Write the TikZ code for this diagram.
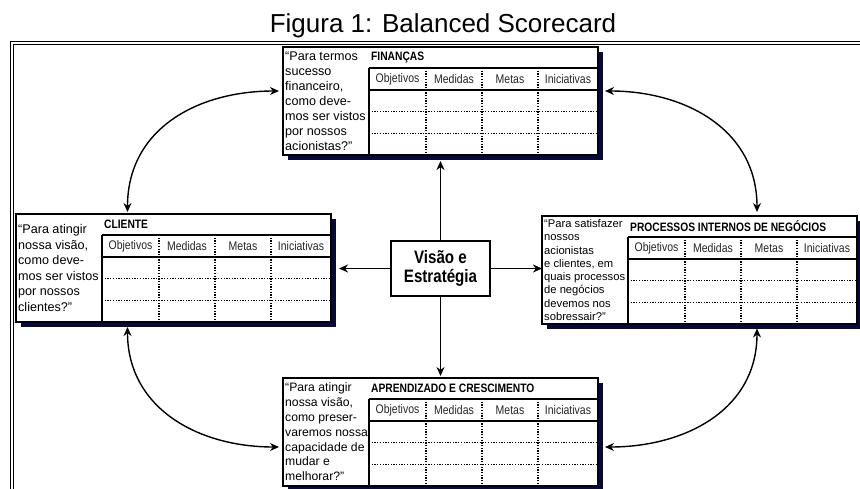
\documentclass[tikz,border=0pt]{standalone}
\usepackage{fontspec}
\setmainfont{Liberation Sans}
\newfontfamily\narrowsans[FakeStretch=0.84]{Liberation Sans}
\usetikzlibrary{arrows.meta}
\definecolor{shadownavy}{RGB}{8,8,58}

\tikzset{
    bscframe/.style={draw, line width=1.7pt, fill=white, minimum width=315pt, minimum height=108pt, inner sep=0pt, outer sep=0pt, anchor=north west},
    rule/.style={line width=1.5pt},
    dotrule/.style={line width=1.4pt, dash pattern=on 1.3pt off 1.4pt},
    colname/.style={font=\narrowsans\fontsize{12.5}{14}\selectfont, text=black!85, inner sep=0pt},
    persptitle/.style={font=\narrowsans\bfseries\fontsize{12.2}{14}\selectfont, anchor=west, inner sep=0pt},
    question/.style={align=left, anchor=west, inner sep=0pt},
    vision/.style={draw, line width=1.7pt, fill=white, minimum width=99pt, minimum height=55pt, align=center, inner sep=0pt, font=\narrowsans\bfseries\fontsize{18}{18.5}\selectfont},
    link/.style={line width=1.5pt, -{Stealth[length=9pt,width=8pt]}},
    feedback/.style={line width=1.4pt, {Stealth[length=9pt,width=8pt]}-{Stealth[length=9pt,width=8pt]}}
}

% one perspective: name, top left, title, font size, leading, question
\newcommand{\bscbox}[6]{%
    \begin{scope}[shift={(#2)}]
        \fill[shadownavy] (4.5,-4.5) rectangle (319.5,-112.5);
        \node[bscframe] (#1) at (0,0) {};
        \draw[rule] (86,-21) -- (315,-21);
        \draw[rule] (86,-43) -- (315,-43);
        \draw[rule] (86,-21) -- (86,-108);
        \draw[dotrule] (143,-21) -- (143,-108);
        \draw[dotrule] (199,-21) -- (199,-108);
        \draw[dotrule] (255,-21) -- (255,-108);
        \draw[dotrule] (86,-64.7) -- (315,-64.7);
        \draw[dotrule] (86,-86.3) -- (315,-86.3);
        \node[persptitle] at (88,-10.5) {#3};
        \node[colname] at (114.5,-32) {Objetivos};
        \node[colname] at (171,-32) {Medidas};
        \node[colname] at (227,-32) {Metas};
        \node[colname] at (285,-32) {Iniciativas};
        \node[question, font=\fontsize{#4}{#5}\selectfont] at (2,-54) {#6};
    \end{scope}}

\begin{document}
\begin{tikzpicture}[x=1pt,y=1pt]
        \useasboundingbox (0,0) rectangle (860,-488);
        % title and outer frame
        \node[font=\fontsize{26}{30}\selectfont, anchor=base] (title) at (443,-32) {Figura 1: Balanced Scorecard};
        \draw[double, double distance=2pt, line width=0.9pt] (12,-495) -- (12,-43) -- (870,-43);

        % perspectives
        \bscbox{fin}{283,-47}{FINANÇAS}{12.6}{15}{“Para termos\\sucesso\\financeiro,\\como deve-\\mos ser vistos\\por nossos\\acionistas?”}
        \bscbox{cli}{16,-214}{CLIENTE}{12.6}{15.5}{“Para atingir\\nossa visão,\\como deve-\\mos ser vistos\\por nossos\\clientes?”}
        \bscbox{proc}{542,-216}{PROCESSOS INTERNOS DE NEGÓCIOS}{11.2}{13.3}{“Para satisfazer\\nossos\\acionistas\\e clientes, em\\quais processos\\de negócios\\devemos nos\\sobressair?”}
        \bscbox{apr}{283,-378}{APRENDIZADO E CRESCIMENTO}{12.2}{14.8}{“Para atingir\\nossa visão,\\como preser-\\varemos nossa\\capacidade de\\mudar e\\melhorar?”}

        % centre
        \node[vision] (vis) at (440.5,-268.5) {Visão e\\Estratégia};
        \coordinate (cliin) at ([xshift=8pt]cli.east);
        \draw[link] (vis.north) -- ([yshift=-6pt]fin.south);
        \draw[link] (vis.south) -- ([yshift=2pt]apr.north);
        \draw[link] (vis.west) -- (vis.west -| cliin);
        \draw[link] (vis.east) -- (vis.east -| proc.west);

        % links between perspectives
        \draw[feedback, shorten <=2pt, shorten >=4pt] ([xshift=-46pt]cli.north) to[out=90,in=180,looseness=1.1] ([yshift=10pt]fin.west);
        \draw[feedback, shorten <=7pt, shorten >=4pt] ([yshift=10pt]fin.east) to[out=0,in=90,looseness=1.1] ([xshift=57.5pt]proc.north);
        \draw[feedback, shorten <=5pt, shorten >=4pt] ([xshift=-46pt]cli.south) to[out=-90,in=180,looseness=1.1] ([yshift=-15pt]apr.west);
        \draw[feedback, shorten <=4.5pt, shorten >=7pt] ([xshift=57.5pt]proc.south) to[out=-90,in=0,looseness=1.1] ([yshift=-15pt]apr.east);
    \end{tikzpicture}
\end{document}
